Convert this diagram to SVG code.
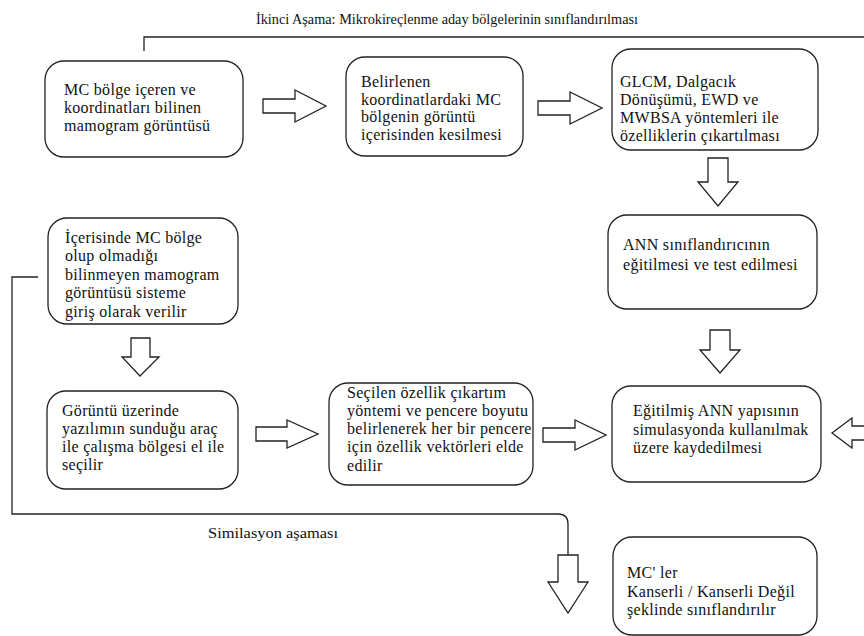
<svg xmlns="http://www.w3.org/2000/svg" width="864" height="636" viewBox="0 0 864 636">
<style>
.box{fill:#fff;stroke:#222;stroke-width:1.3}
.ln{fill:none;stroke:#222;stroke-width:1.3}
.arr{fill:#fff;stroke:#222;stroke-width:1.3;stroke-linejoin:miter}
text{font-family:"Liberation Serif","Times New Roman",serif;font-size:16px;fill:#111;letter-spacing:0.3px}
.t{font-size:15px;letter-spacing:0px}
</style>
<rect width="864" height="636" fill="#fff"/>
<text class="t" x="256" y="24" textLength="382" lengthAdjust="spacingAndGlyphs">İkinci Aşama: Mikrokireçlenme aday bölgelerinin sınıflandırılması</text>
<g id="connectors">
<polyline class="ln" points="144,51 144,37 870,37"/>
<path class="ln" d="M38,277 H12 V514 H558 Q568,514 568,524 V555"/>
<polygon class="arr" points="263,99 295,99 295,90 326,106 295,122 295,113 263,113"/>
<polygon class="arr" points="538,101 570,101 570,92 602,108 570,124 570,115 538,115"/>
<polygon class="arr" points="708,158 728,158 728,182 738,182 718,206 698,182 708,182"/>
<polygon class="arr" points="710,330 730,330 730,350 740,350 720,373 700,350 710,350"/>
<polygon class="arr" points="131,338 150,338 150,357 159,357 140,376 122,357 131,357"/>
<polygon class="arr" points="256,427 287,427 287,420 318,434 287,448 287,441 256,441"/>
<polygon class="arr" points="543,428 575,428 575,420 606,435 575,450 575,442 543,442"/>
<polygon class="arr" points="870,426 852,426 852,418 832,433 852,448 852,440 870,440"/>
<polygon class="arr" points="558,555 578,555 578,582 588,582 568,613 548,582 558,582"/>
</g>
<g id="nodeA">
<rect class="box" x="45" y="61" width="198" height="96" rx="19"/>
<text x="64" y="95">MC bölge içeren ve</text>
<text x="64" y="113">koordinatları bilinen</text>
<text x="64" y="131">mamogram görüntüsü</text>
</g>
<g id="nodeB">
<rect class="box" x="346" y="57" width="177" height="99" rx="19"/>
<text x="361" y="87">Belirlenen</text>
<text x="361" y="105">koordinatlardaki MC</text>
<text x="361" y="122">bölgenin görüntü</text>
<text x="361" y="140">içerisinden kesilmesi</text>
</g>
<g id="nodeC">
<rect class="box" x="612" y="49" width="206" height="101" rx="19"/>
<text x="620" y="87">GLCM, Dalgacık</text>
<text x="620" y="105">Dönüşümü, EWD ve</text>
<text x="620" y="123">MWBSA yöntemleri ile</text>
<text x="620" y="141">özelliklerin çıkartılması</text>
</g>
<g id="nodeD">
<rect class="box" x="48" y="218" width="190" height="106" rx="19"/>
<text x="65" y="243">İçerisinde MC bölge</text>
<text x="65" y="261">olup olmadığı</text>
<text x="65" y="280">bilinmeyen mamogram</text>
<text x="65" y="298">görüntüsü sisteme</text>
<text x="65" y="317">giriş olarak verilir</text>
</g>
<g id="nodeE">
<rect class="box" x="608" y="215" width="209" height="94" rx="19"/>
<text x="623" y="250">ANN sınıflandırıcının</text>
<text x="623" y="270">eğitilmesi ve test edilmesi</text>
</g>
<g id="nodeH">
<rect class="box" x="47" y="391" width="191" height="98" rx="19"/>
<text x="62" y="416">Görüntü üzerinde</text>
<text x="62" y="434">yazılımın sunduğu araç</text>
<text x="62" y="452">ile çalışma bölgesi el ile</text>
<text x="62" y="470">seçilir</text>
</g>
<g id="nodeI">
<rect class="box" x="329" y="383" width="204" height="102" rx="19"/>
<text x="347" y="398">Seçilen özellik çıkartım</text>
<text x="347" y="416">yöntemi ve pencere boyutu</text>
<text x="347" y="434">belirlenerek her bir pencere</text>
<text x="347" y="452">için özellik vektörleri elde</text>
<text x="347" y="471">edilir</text>
</g>
<g id="nodeF">
<rect class="box" x="612" y="386" width="209" height="96" rx="19"/>
<text x="633" y="416">Eğitilmiş ANN yapısının</text>
<text x="633" y="435">simulasyonda kullanılmak</text>
<text x="633" y="453">üzere kaydedilmesi</text>
</g>
<g id="nodeG">
<rect class="box" x="613" y="537" width="204" height="98" rx="19"/>
<text x="627" y="578">MC' ler</text>
<text x="627" y="597">Kanserli / Kanserli Değil</text>
<text x="627" y="615">şeklinde sınıflandırılır</text>
</g>
<text class="t" x="208" y="538" textLength="130" lengthAdjust="spacingAndGlyphs">Similasyon aşaması</text>
</svg>
